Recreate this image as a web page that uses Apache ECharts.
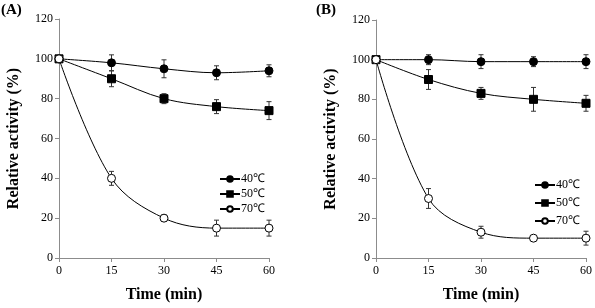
<!DOCTYPE html>
<html>
<head>
<meta charset="utf-8">
<script src="https://cdn.jsdelivr.net/npm/echarts@6/dist/echarts.min.js"></script>
<style>
  html, body { margin: 0; padding: 0; background: #fff; }
  #chart { width: 595px; height: 308px; }
</style>
</head>
<body>
<div id="chart"></div>
<script>
// time points (min)
const times = [0, 15, 30, 45, 60];
const seriesNames = ['40℃', '50℃', '70℃'];

// panel A
const a40 = [100, 98, 95, 93, 94];
const a50 = [100, 90, 80, 76, 74];
const a70 = [100, 40, 20, 15, 15];
const a40Err = [0, 4, 4.5, 3.5, 3];
const a50Err = [0, 4, 2.5, 3.5, 4.5];
const a70Err = [0, 3.5, 1.5, 4, 4];

// panel B
const b40 = [100, 100, 99, 99, 99];
const b50 = [100, 90, 83, 80, 78];
const b70 = [100, 30, 13, 10, 10];
const b40Err = [0, 2.5, 3.5, 2.5, 3.5];
const b50Err = [0, 5, 3, 6, 4];
const b70Err = [0, 5, 3, 1, 3.5];

const yTicks = [0, 20, 40, 60, 80, 100, 120];

const font = '"Liberation Serif", "Times New Roman", serif';
const symbols = [
    { symbol: 'circle', size: 8, fill: '#000' },
    { symbol: 'rect', size: 8, fill: '#000' },
    { symbol: 'circle', size: 8, fill: '#fff' }
];

const pairs = (vals) => times.map((t, i) => [t, vals[i]]);

function lineSeries(idx, vals, k) {
    const s = symbols[k];
    return {
        name: seriesNames[k],
        type: 'line',
        xAxisIndex: idx,
        yAxisIndex: idx,
        data: pairs(vals),
        smooth: 0.35,
        symbol: s.symbol,
        symbolSize: s.size,
        showAllSymbol: true,
        lineStyle: { color: '#000', width: 1 },
        itemStyle: { color: s.fill, borderColor: '#000', borderWidth: 1 },
        z: 3
    };
}

function errSeries(idx, vals, errs) {
    return {
        type: 'custom',
        xAxisIndex: idx,
        yAxisIndex: idx,
        z: 2,
        silent: true,
        data: times.map((t, i) => [t, vals[i], errs[i]]),
        renderItem: (params, api) => {
            const x = api.value(0), y = api.value(1), e = api.value(2);
            if (!e) return null;
            const top = api.coord([x, y + e]);
            const bot = api.coord([x, y - e]);
            const w = 2.5;
            const st = { stroke: '#333', lineWidth: 1 };
            return {
                type: 'group',
                children: [
                    { type: 'line', shape: { x1: top[0], y1: top[1], x2: bot[0], y2: bot[1] }, style: st },
                    { type: 'line', shape: { x1: top[0] - w, y1: top[1], x2: top[0] + w, y2: top[1] }, style: st },
                    { type: 'line', shape: { x1: bot[0] - w, y1: bot[1], x2: bot[0] + w, y2: bot[1] }, style: st }
                ]
            };
        }
    };
}

function xAxis(idx) {
    return {
        type: 'value', gridIndex: idx, min: 0, max: 60, interval: 15,
        name: 'Time (min)', nameLocation: 'middle', nameGap: 29,
        nameTextStyle: { fontFamily: font, fontWeight: 'bold', fontSize: 16, color: '#000' },
        axisLine: { lineStyle: { color: '#8c8c8c', width: 1 } },
        axisTick: { show: true, length: 4, lineStyle: { color: '#8c8c8c' } },
        axisLabel: { fontFamily: font, fontSize: 12, color: '#000', margin: 7 },
        splitLine: { show: false }
    };
}

function yAxis(idx) {
    return {
        type: 'value', gridIndex: idx, min: yTicks[0], max: yTicks[yTicks.length - 1], interval: 20,
        name: 'Relative activity (%)', nameLocation: 'middle', nameGap: 37,
        nameTextStyle: { fontFamily: font, fontWeight: 'bold', fontSize: 16, color: '#000' },
        axisLine: { show: true, lineStyle: { color: '#8c8c8c', width: 1 } },
        axisTick: { show: true, length: 4, lineStyle: { color: '#8c8c8c' } },
        axisLabel: { fontFamily: font, fontSize: 12, color: '#000', margin: 6 },
        splitLine: { show: false }
    };
}

function legend(left, top, gap) {
    return {
        data: seriesNames, orient: 'vertical', left: left, top: top,
        itemWidth: 20, itemHeight: 7, itemGap: gap,
        textStyle: { fontFamily: font, fontSize: 12, color: '#000', padding: [0, 0, 0, -4] },
        selectedMode: false
    };
}

const chart = echarts.init(document.getElementById('chart'));
chart.setOption({
    animation: false,
    backgroundColor: '#fff',
    grid: [
        { left: 59, top: 19, width: 210, height: 242 },
        { left: 376, top: 20, width: 212, height: 242 }
    ],
    xAxis: [xAxis(0), xAxis(1)],
    yAxis: [yAxis(0), yAxis(1)],
    legend: [legend(214, 168, 3), legend(529, 174, 6)],
    graphic: [
        { type: 'text', left: 1, top: 3, style: { text: '(A)', font: 'bold 15px ' + font, fill: '#000' } },
        { type: 'text', left: 316, top: 3, style: { text: '(B)', font: 'bold 15px ' + font, fill: '#000' } }
    ],
    series: [
        errSeries(0, a40, a40Err), errSeries(0, a50, a50Err), errSeries(0, a70, a70Err),
        lineSeries(0, a40, 0), lineSeries(0, a50, 1), lineSeries(0, a70, 2),
        errSeries(1, b40, b40Err), errSeries(1, b50, b50Err), errSeries(1, b70, b70Err),
        lineSeries(1, b40, 0), lineSeries(1, b50, 1), lineSeries(1, b70, 2)
    ]
});
</script>
</body>
</html>
